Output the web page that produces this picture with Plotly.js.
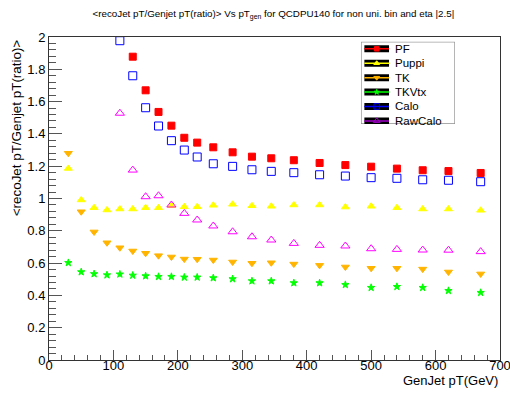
<!DOCTYPE html>
<html>
<head>
<meta charset="utf-8">
<script src="https://cdn.plot.ly/plotly-3.0.1.min.js"></script>
<style>html,body{margin:0;padding:0;background:#fff}</style>
</head>
<body>
<div id="chart" style="width:510px;height:397px"></div>
<script>
// ---- data ----
const ptBins = [30,50,70,90,110,130,150,170,190,210,230,255,285,315,345,380,420,460,500,540,580,620,670];
const pf      = [null,null,null,null,null,1.878,1.670,1.536,1.451,1.376,1.346,1.317,1.286,1.259,1.249,1.237,1.220,1.207,1.197,1.185,1.175,1.170,1.158];
const puppi   = [1.186,0.991,0.943,0.929,0.935,0.935,0.943,0.943,0.955,0.949,0.949,0.958,0.964,0.955,0.952,0.960,0.960,0.947,0.952,0.943,0.935,0.935,0.927];
const tk      = [1.280,0.918,0.793,0.726,0.695,0.675,0.661,0.646,0.638,0.625,0.624,0.619,0.607,0.599,0.602,0.594,0.586,0.576,0.568,0.568,0.563,0.545,0.533];
const tkvtx   = [0.602,0.545,0.533,0.526,0.531,0.524,0.520,0.516,0.516,0.512,0.512,0.508,0.502,0.489,0.489,0.477,0.477,0.466,0.448,0.454,0.448,0.429,0.417];
const calo    = [null,null,null,null,1.977,1.760,1.562,1.449,1.358,1.300,1.257,1.215,1.199,1.178,1.168,1.160,1.147,1.139,1.129,1.125,1.116,1.113,1.104];
const rawcalo = [null,null,null,null,1.528,1.176,1.011,1.017,0.960,0.908,0.867,0.830,0.794,0.763,0.743,0.722,0.710,0.706,0.689,0.685,0.681,0.680,0.671];

const seriesNames = ['PF','Puppi','TK','TKVtx','Calo','RawCalo'];
const seriesData  = [pf, puppi, tk, tkvtx, calo, rawcalo];

const titleText = '&lt;recoJet pT/Genjet pT(ratio)&gt; Vs pT<sub>gen</sub> for QCDPU140 for non uni. bin and eta |2.5|';
const xTitle = 'GenJet pT(GeV)';
const yTitle = '&lt;recoJet pT/Genjet pT(ratio)&gt;';

// ---- styles ----
const styles = [
  {symbol:'square',          color:'#ff0000', line:'#ff0000', size:7,   lsize:4.5},
  {symbol:'triangle-up',     color:'#ffff00', line:'#ffff00', size:7,   lsize:5},
  {symbol:'triangle-down',   color:'#ffb400', line:'#ffb400', size:7,   lsize:5},
  {symbol:'star',            color:'#00ff00', line:'#00ff00', size:5.5, lsize:4},
  {symbol:'square-open',     color:'#0000ff', line:'#0000ff', size:8,   lsize:5.5},
  {symbol:'triangle-up-open',color:'#ff00ff', line:'#a000c8', size:8,   lsize:6}
];
const FONT = 'Liberation Sans, Arial, Helvetica, sans-serif';

const traces = seriesNames.map((n,i)=>({
  type:'scatter', mode:'markers', name:n, x:ptBins, y:seriesData[i],
  xaxis:'x', yaxis:'y', showlegend:false, hoverinfo:'skip',
  marker:{symbol:styles[i].symbol, size:styles[i].size, color:styles[i].color,
          line:{color:styles[i].color, width:1}}
}));

// ---- custom ROOT-style legend in its own local pixel frame (x2/y2) ----
const legW = 94, legH = 82, legTop = 7, legStep = 14.4;
const legY = seriesNames.map((n,i)=> legTop + i*legStep);
const symX0 = 3.3, symX1 = 28, symXc = (symX0+symX1)/2;
const shapes = [{type:'rect', xref:'x2', yref:'y2', x0:0, x1:legW, y0:0, y1:legH,
  fillcolor:'#ffffff', line:{color:'#777', width:1}, layer:'below'}];
const annotations = [];
seriesNames.forEach((n,i)=>{
  shapes.push({type:'rect', xref:'x2', yref:'y2', x0:symX0, x1:symX1, y0:legY[i]-3.5, y1:legY[i]+3.5,
    fillcolor:'#000', line:{width:0}, layer:'below'});
  shapes.push({type:'line', xref:'x2', yref:'y2', x0:symX0, x1:symX1, y0:legY[i], y1:legY[i],
    line:{color:styles[i].line, width:1.5}, layer:'below'});
  annotations.push({xref:'x2', yref:'y2', x:31.7, y:legY[i], xanchor:'left', yanchor:'middle',
    text:n, showarrow:false, font:{family:FONT, size:11.5, color:'#000'}});
  traces.push({type:'scatter', mode:'markers', x:[symXc], y:[legY[i]], xaxis:'x2', yaxis:'y2',
    showlegend:false, hoverinfo:'skip',
    marker:{symbol:styles[i].symbol, size:styles[i].lsize, color:styles[i].line, line:{color:styles[i].line, width:1}}});
});

annotations.push({xref:'paper', yref:'paper', x:-0.073, y:0.998, xanchor:'center', yanchor:'top',
  textangle:-90, text:yTitle, showarrow:false, font:{family:FONT, size:13.4, color:'#000'}});
annotations.push({xref:'paper', yref:'paper', x:1, y:-0.064, xanchor:'right', yanchor:'middle',
  text:xTitle, showarrow:false, font:{family:FONT, size:13, color:'#000'}});

const axisCommon = {showgrid:false, zeroline:false, showline:true, linecolor:'#333', linewidth:1,
  mirror:true, ticks:'inside', tickcolor:'#555', tickwidth:1, ticklabeloverflow:'allow',
  tickfont:{family:FONT, size:13, color:'#000'}};

const layout = {
  width:510, height:397,
  margin:{l:49, r:10, t:37, b:37},
  paper_bgcolor:'#fff', plot_bgcolor:'#fff',
  showlegend:false,
  title:{text:titleText, font:{family:FONT, size:9.8, color:'#000'}, xref:'container', yref:'container',
    x:0.536, y:0.967, xanchor:'center', yanchor:'middle'},
  xaxis:Object.assign({}, axisCommon, {range:[0,700], dtick:100, tick0:0, ticklen:10, showticklabels:false,
    minor:{dtick:20, ticklen:5, ticks:'inside', tickcolor:'#555'}}),
  // label-only copy of the x axis, lifted a few pixels so labels sit close to the frame as in ROOT
  xaxis3:{overlaying:'x', anchor:'free', position:0.012, range:[0,700], dtick:100, tick0:0,
    showgrid:false, zeroline:false, showline:false, ticks:'', ticklabeloverflow:'allow',
    tickfont:{family:FONT, size:13, color:'#000'}},
  yaxis:Object.assign({}, axisCommon, {range:[0,2], dtick:0.2, tick0:0, ticklen:13,
    minor:{dtick:0.04, ticklen:6.5, ticks:'inside', tickcolor:'#555'}}),
  xaxis2:{domain:[0.692,0.900], range:[0,legW], visible:false, anchor:'y2', fixedrange:true},
  yaxis2:{domain:[0.731,0.985], range:[legH,0], visible:false, anchor:'x2', fixedrange:true},
  shapes:shapes,
  annotations:annotations
};

// invisible helper trace so the label axis is drawn
traces.push({type:'scatter', mode:'markers', x:[ptBins[0]], y:[pf[pf.length-1]], xaxis:'x3', yaxis:'y',
  marker:{opacity:0, size:1}, showlegend:false, hoverinfo:'skip'});

Plotly.newPlot('chart', traces, layout, {staticPlot:true, displayModeBar:false});
</script>
</body>
</html>
